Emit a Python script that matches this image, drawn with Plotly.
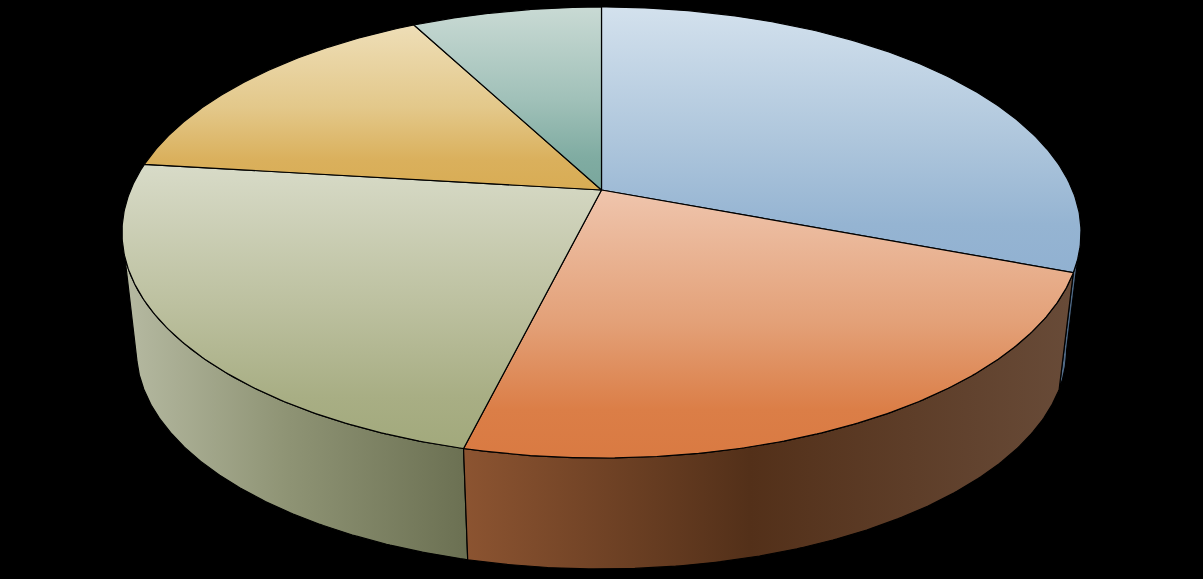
import numpy as np
import plotly.graph_objects as go

# Slice shares, clockwise from twelve o'clock
categories = ["A", "B", "C", "D", "E"]
values = [4, 3, 3, 2, 1]

# Colours per slice: top-face vertical gradient (light -> dark)
top_positions = [0, 0.5, 0.82, 1]
top_colors = [
    ["#d3e1ed", "#aec6dc", "#95b4d2", "#91b1d1"],
    ["#efc5ad", "#e3a077", "#db7e47", "#d97a42"],
    ["#d8dbc8", "#bcc09f", "#a8ae84", "#a2a97c"],
    ["#eedeb7", "#e3c88a", "#dab05c", "#d8ac54"],
    ["#c9dad4", "#a1c1b9", "#80aca2", "#79a69c"],
]
# Side-wall horizontal gradient stops (left -> right)
side_positions = [0, 0.47, 1]
side_colors = [
    ["#56708c", "#4a6480", "#56708c"],
    ["#8c5431", "#533019", "#684b38"],
    ["#b6baa2", "#8f9475", "#6b7052"],
    ["#8a7a50", "#8a7a50", "#8a7a50"],
    ["#5f7a74", "#5f7a74", "#5f7a74"],
]

# Projection of the disc onto the screen
CX = 601.5
APEX_Y = 190.0
A = 470.9
B = 217.5
K = 0.1885
WALL_SCALE = 0.97
WALL_APEX_Y = 309.0
N = 160


def project(theta, scale=1.0, apex=APEX_Y):
    u, v = np.sin(theta), np.cos(theta)
    w = 1 + K * v
    return CX + scale * A * u / w, apex - scale * B * v / w


fractions = np.cumsum([0] + values) / sum(values)
bounds = 2 * np.pi * fractions
# Only the part of the outer wall facing the viewer is visible
visible_from = np.arccos(-K)
visible_to = 2 * np.pi - visible_from

fig = go.Figure()


def add_face(xs, ys, kind, positions, colors, start, stop):
    fig.add_trace(go.Scatter(
        x=xs, y=ys, mode="lines", fill="toself",
        line=dict(color="#000000", width=1.2),
        fillgradient=dict(
            type=kind,
            colorscale=[[p, c] for p, c in zip(positions, colors)],
            start=start, stop=stop,
        ),
        hoverinfo="skip", showlegend=False,
    ))


# Side walls: far slices first
for i in [0, 2, 1]:
    lo = max(bounds[i], visible_from)
    hi = min(bounds[i + 1], visible_to)
    t = np.linspace(lo, hi, N)
    tx, ty = project(t)
    bx, by = project(t[::-1], WALL_SCALE, WALL_APEX_Y)
    xs = np.r_[tx, bx, tx[0]]
    ys = np.r_[ty, by, ty[0]]
    add_face(xs, ys, "horizontal", side_positions, side_colors[i],
             float(xs.min()), float(xs.max()))

# Top faces
for i in range(len(values)):
    t = np.linspace(bounds[i], bounds[i + 1], N)
    tx, ty = project(t)
    xs = np.r_[CX, tx, CX]
    ys = np.r_[APEX_Y, ty, APEX_Y]
    add_face(xs, ys, "vertical", top_positions, top_colors[i],
             float(ys.min()), float(ys.max()))

axis = dict(visible=False, fixedrange=True)
fig.update_layout(
    width=1203, height=579, margin=dict(l=0, r=0, t=0, b=0),
    paper_bgcolor="#000000", plot_bgcolor="#000000", showlegend=False,
    xaxis=dict(range=[0, 1203], **axis),
    yaxis=dict(range=[579, 0], **axis),
)
fig.write_html(
    "out.html",
    config=dict(displayModeBar=False),
    post_script="document.body.style.margin='0';document.body.style.background='#000';",
)
